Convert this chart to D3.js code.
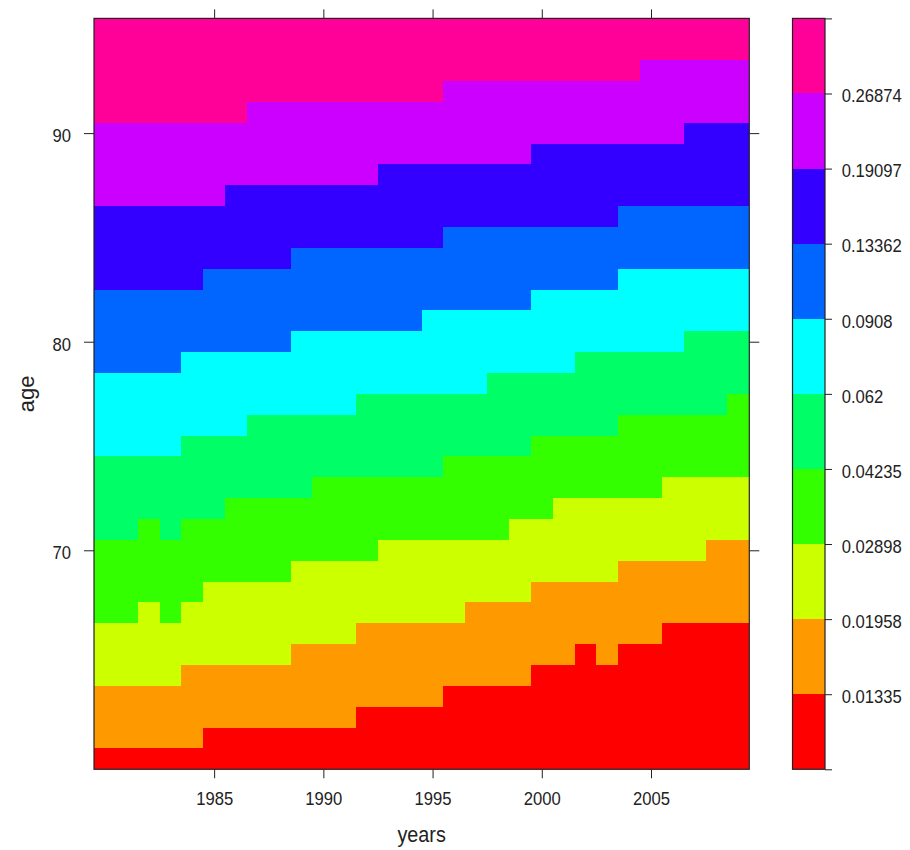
<!DOCTYPE html>
<html>
<head>
<meta charset="utf-8">
<script src="https://cdn.jsdelivr.net/npm/d3@7/dist/d3.min.js"></script>
<style>
    body { margin: 0; background: #fff; }
    svg { display: block; font-family: "Liberation Sans", Arial, sans-serif; }
</style>
</head>
<body>
<div id="chart"></div>
<script>
const years = [1980, 1981, 1982, 1983, 1984, 1985, 1986, 1987, 1988, 1989,
    1990, 1991, 1992, 1993, 1994, 1995, 1996, 1997, 1998, 1999,
    2000, 2001, 2002, 2003, 2004, 2005, 2006, 2007, 2008, 2009];
const ages = [60, 61, 62, 63, 64, 65, 66, 67, 68, 69, 70, 71, 72, 73, 74, 75, 76, 77,
    78, 79, 80, 81, 82, 83, 84, 85, 86, 87, 88, 89, 90, 91, 92, 93, 94, 95];

// colour key breaks (rate levels)
const breaks = [0.01335, 0.01958, 0.02898, 0.04235, 0.062, 0.0908, 0.13362, 0.19097, 0.26874];
const levelColors = ["#FF0000", "#FF9900", "#CCFF00", "#33FF00", "#00FF66",
    "#00FFFF", "#0066FF", "#3300FF", "#CC00FF", "#FF0099"];

// for each year: first age whose rate reaches the break
const startAt01335 = [61, 61, 61, 61, 61, 62, 62, 62, 62, 62, 62, 62, 63, 63, 63, 63, 64, 64, 64, 64, 65, 65, 66, 65, 66, 66, 67, 67, 67, 67];
const startAt01958 = [64, 64, 64, 64, 65, 65, 65, 65, 65, 66, 66, 66, 67, 67, 67, 67, 67, 68, 68, 68, 69, 69, 69, 69, 70, 70, 70, 70, 71, 71];
const startAt02898 = [67, 67, 68, 67, 68, 69, 69, 69, 69, 70, 70, 70, 70, 71, 71, 71, 71, 71, 71, 72, 72, 73, 73, 73, 73, 73, 74, 74, 74, 74];
const startAt04235 = [71, 71, 72, 71, 72, 72, 73, 73, 73, 73, 74, 74, 74, 74, 74, 74, 75, 75, 75, 75, 76, 76, 76, 76, 77, 77, 77, 77, 77, 78];
const startAt062 = [75, 75, 75, 75, 76, 76, 76, 77, 77, 77, 77, 77, 78, 78, 78, 78, 78, 78, 79, 79, 79, 79, 80, 80, 80, 80, 80, 81, 81, 81];
const startAt0908 = [79, 79, 79, 79, 80, 80, 80, 80, 80, 81, 81, 81, 81, 81, 81, 82, 82, 82, 82, 82, 83, 83, 83, 83, 84, 84, 84, 84, 84, 84];
const startAt13362 = [83, 83, 83, 83, 83, 84, 84, 84, 84, 85, 85, 85, 85, 85, 85, 85, 86, 86, 86, 86, 86, 86, 86, 86, 87, 87, 87, 87, 87, 87];
const startAt19097 = [87, 87, 87, 87, 87, 87, 88, 88, 88, 88, 88, 88, 88, 89, 89, 89, 89, 89, 89, 89, 90, 90, 90, 90, 90, 90, 90, 91, 91, 91];
const startAt26874 = [91, 91, 91, 91, 91, 91, 91, 92, 92, 92, 92, 92, 92, 92, 92, 92, 93, 93, 93, 93, 93, 93, 93, 93, 93, 94, 94, 94, 94, 94];

const xTicks = [1985, 1990, 1995, 2000, 2005];
const yTicks = [70, 80, 90];

const startAges = [startAt01335, startAt01958, startAt02898, startAt04235, startAt062,
    startAt0908, startAt13362, startAt19097, startAt26874];

const W = 910, H = 850;
const plot = {left: 94, right: 749.3, top: 18.4, bottom: 769.3};
const key = {left: 792.5, right: 825};
const squeeze = 0.9; // text in the reference is a bit narrow

let cells = [];
years.forEach((yr, i) => {
    ages.forEach((age) => {
        let level = startAges.filter((s) => s[i] <= age).length;
        cells.push({year: yr, age: age, level: level});
    });
});

let xSc = d3.scaleLinear().domain([1979.5, 2009.5]).range([plot.left, plot.right]);
let ySc = d3.scaleLinear().domain([59.5, 95.5]).range([plot.bottom, plot.top]);
let color = d3.scaleOrdinal().domain(d3.range(levelColors.length)).range(levelColors);
let keySc = d3.scaleLinear().domain([0, levelColors.length]).range([plot.bottom, plot.top]);

let svg = d3.select("#chart").append("svg")
    .attr("width", W)
    .attr("height", H);

// heat cells
svg.append("g")
    .attr("shape-rendering", "crispEdges")
    .selectAll("rect")
    .data(cells)
    .enter().append("rect")
    .attr("x", (d) => Math.round(xSc(d.year - 0.5)))
    .attr("y", (d) => Math.round(ySc(d.age + 0.5)))
    .attr("width", (d) => Math.round(xSc(d.year + 0.5)) - Math.round(xSc(d.year - 0.5)))
    .attr("height", (d) => Math.round(ySc(d.age - 0.5)) - Math.round(ySc(d.age + 0.5)))
    .attr("fill", (d) => color(d.level));

function styleAxis(g) {
    g.select(".domain").remove();
    g.selectAll(".tick line").attr("stroke", "#222");
    g.selectAll(".tick text")
        .attr("fill", "#222")
        .style("font-size", "18.5px");
}

// bottom / left axes with labels
svg.append("g")
    .attr("transform", "translate(0," + plot.bottom + ")")
    .call(d3.axisBottom(xSc).tickValues(xTicks).tickSize(9).tickPadding(14).tickFormat(d3.format("d")))
    .call(styleAxis)
    .call((g) => g.selectAll(".tick text").attr("transform", "scale(" + squeeze + ",1)"));

svg.append("g")
    .attr("transform", "translate(" + plot.left + ",0)")
    .call(d3.axisLeft(ySc).tickValues(yTicks).tickSize(10).tickFormat(d3.format("d")))
    .call(styleAxis)
    .call((g) => g.selectAll(".tick text")
        .attr("x", -23 / squeeze)
        .attr("dy", "0.47em")
        .attr("transform", "scale(" + squeeze + ",1)"));

// top / right ticks only
svg.append("g")
    .attr("transform", "translate(0," + plot.top + ")")
    .call(d3.axisTop(xSc).tickValues(xTicks).tickSize(9).tickFormat(""))
    .call(styleAxis);

svg.append("g")
    .attr("transform", "translate(" + plot.right + ",0)")
    .call(d3.axisRight(ySc).tickValues(yTicks).tickSize(10).tickFormat(""))
    .call(styleAxis);

// frame
svg.append("rect")
    .attr("x", plot.left)
    .attr("y", plot.top)
    .attr("width", plot.right - plot.left)
    .attr("height", plot.bottom - plot.top)
    .attr("fill", "none")
    .attr("stroke", "#222")
    .attr("stroke-width", 1.2);

// colour key
svg.append("g")
    .attr("shape-rendering", "crispEdges")
    .selectAll("rect")
    .data(levelColors)
    .enter().append("rect")
    .attr("x", key.left)
    .attr("y", (d, i) => keySc(i + 1))
    .attr("width", key.right - key.left)
    .attr("height", (d, i) => keySc(i) - keySc(i + 1))
    .attr("fill", (d) => d);

svg.append("rect")
    .attr("x", key.left)
    .attr("y", plot.top)
    .attr("width", key.right - key.left)
    .attr("height", plot.bottom - plot.top)
    .attr("fill", "none")
    .attr("stroke", "#222")
    .attr("stroke-width", 1.2);

svg.append("g")
    .attr("transform", "translate(" + key.right + ",0)")
    .call(d3.axisRight(keySc)
        .tickValues(d3.range(levelColors.length + 1))
        .tickSize(7)
        .tickFormat((i) => (i > 0 && i <= breaks.length) ? breaks[i - 1] : ""))
    .call(styleAxis)
    .call((g) => g.selectAll(".tick text")
        .attr("x", 16.7 / squeeze)
        .attr("dy", "0.45em")
        .attr("transform", "scale(" + squeeze + ",1)"));

// axis titles
svg.append("text")
    .attr("transform", "translate(" + ((plot.left + plot.right) / 2) + ",842) scale(" + squeeze + ",1)")
    .attr("text-anchor", "middle")
    .attr("fill", "#222")
    .style("font-size", "22px")
    .text("years");

svg.append("text")
    .attr("transform", "translate(34," + ((plot.top + plot.bottom) / 2) + ") rotate(-90)")
    .attr("text-anchor", "middle")
    .attr("fill", "#222")
    .style("font-size", "22px")
    .text("age");
</script>
</body>
</html>
